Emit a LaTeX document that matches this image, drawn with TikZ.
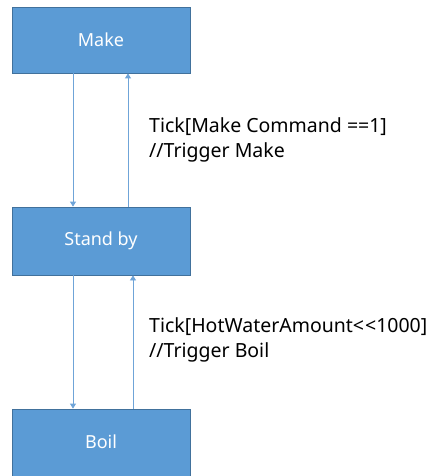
\documentclass[tikz,border=0pt]{standalone}
\usepackage{fontspec}
\setmainfont{Noto Sans}[Ligatures=NoCommon]
\usetikzlibrary{arrows.meta}
\definecolor{boxfill}{HTML}{5B9BD5}
\definecolor{boxline}{HTML}{41719C}
\definecolor{arrcol}{HTML}{6FA4D8}
\begin{document}
\begin{tikzpicture}[x=1pt,y=-1pt,
  statebox/.style={draw=boxline, line width=0.8pt, fill=boxfill, text=white,
    minimum width=178pt, inner sep=0pt, font=\fontsize{18}{21}\selectfont},
  arr/.style={draw=arrcol, line width=0.8pt, -{Triangle[length=5pt,width=6pt]}},
  lbl/.style={anchor=west, align=left, inner sep=0pt, font=\fontsize{19.5}{25}\selectfont}]
\useasboundingbox (0,0) rectangle (435,476);
\clip (0,0) rectangle (435,476);
\node[statebox, minimum height=66pt] (make) at (101,40) {Make};
\node[statebox, minimum height=68pt] (standby) at (101,241) {Stand by};
\node[statebox, minimum height=80pt] (boil) at (101,449) {};
\node[text=white, font=\fontsize{18}{21}\selectfont] (boiltxt) at (101,442) {Boil};
\draw[arr] (make.south -| 73,0) -- (standby.north -| 73,0);
\draw[arr] (standby.north -| 128,0) -- (make.south -| 128,0);
\draw[arr] (standby.south -| 73,0) -- (boil.north -| 73,0);
\draw[arr] (boil.north -| 133,0) -- (standby.south -| 133,0);
\node[lbl] (l1) at (149,140) {Tick[Make Command ==1]\\//Trigger Make};
\node[lbl] (l2) at (149,340) {Tick[HotWaterAmount{<}\kern1pt{<}1000]\\//Trigger Boil};
\end{tikzpicture}
\end{document}
